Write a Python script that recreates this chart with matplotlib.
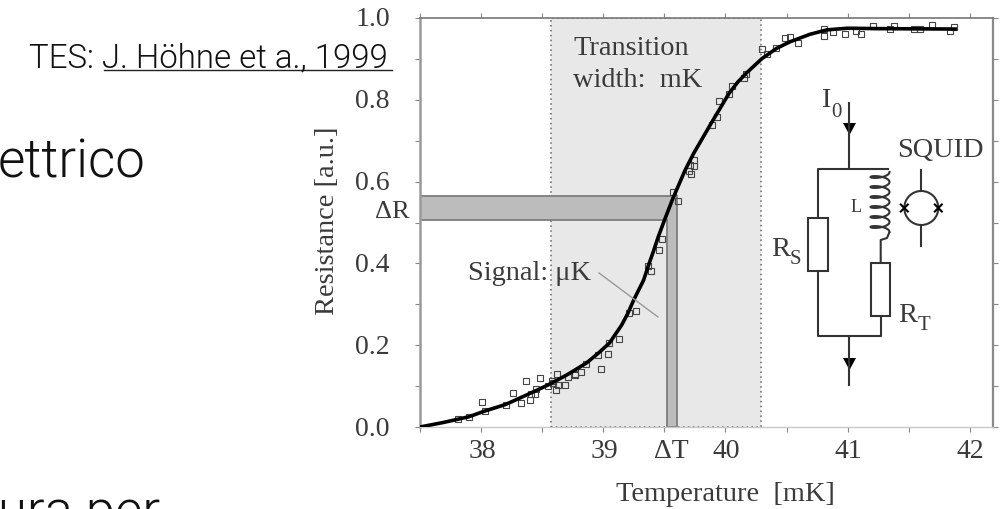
import numpy as np
import matplotlib
matplotlib.use("Agg")
import matplotlib.pyplot as plt
from matplotlib.patches import Polygon, Rectangle, Circle

# fit curve
curve_t = [37.5, 37.69, 37.90, 38.03, 38.20, 38.37, 38.55, 38.70, 38.86, 38.95, 39.05, 39.15, 39.20, 39.25,
           39.33, 39.37, 39.41, 39.45, 39.50, 39.57, 39.67, 39.74, 39.89, 40.03, 40.10, 40.17, 40.30,
           40.42, 40.53, 40.69, 40.83, 41.0, 41.24, 41.88]
curve_r = [0.0, 0.011, 0.025, 0.039, 0.055, 0.078, 0.103, 0.127, 0.156, 0.178, 0.205, 0.249, 0.277, 0.311,
           0.359, 0.395, 0.429, 0.465, 0.505, 0.559, 0.628, 0.669, 0.746, 0.816, 0.843, 0.865, 0.901,
           0.926, 0.942, 0.960, 0.971, 0.975, 0.974, 0.973]

# measured points
pts_t = [37.81, 37.90, 38.01, 38.03, 38.20, 38.26, 38.33, 38.37, 38.40, 38.41, 38.44, 38.45,
         38.48, 38.55, 38.58, 38.59, 38.61, 38.62, 38.63, 38.69, 38.71, 38.77, 38.77, 38.82,
         38.86, 38.96, 38.98, 39.04, 39.05, 39.13, 39.21, 39.27, 39.37, 39.39, 39.46, 39.48,
         39.61, 39.57, 39.72, 39.70, 39.74, 39.71, 39.74, 39.89, 39.93, 39.95, 40.03, 40.05,
         40.15, 40.17, 40.30, 40.34, 40.41, 40.49, 40.53, 40.59, 40.81, 40.81, 40.88, 40.98,
         41.07, 41.11, 41.21, 41.35, 41.38, 41.54, 41.59, 41.69, 41.84, 41.87]
pts_r = [0.020, 0.025, 0.062, 0.040, 0.055, 0.084, 0.058, 0.112, 0.065, 0.081, 0.081, 0.094,
         0.119, 0.100, 0.113, 0.107, 0.091, 0.130, 0.103, 0.103, 0.122, 0.130, 0.128, 0.134,
         0.153, 0.177, 0.141, 0.178, 0.206, 0.215, 0.279, 0.284, 0.394, 0.381, 0.433, 0.460,
         0.553, 0.575, 0.618, 0.627, 0.638, 0.641, 0.653, 0.738, 0.758, 0.797, 0.813, 0.834,
         0.853, 0.863, 0.923, 0.913, 0.926, 0.950, 0.954, 0.940, 0.972, 0.956, 0.965, 0.961,
         0.969, 0.962, 0.980, 0.973, 0.980, 0.973, 0.973, 0.982, 0.969, 0.979]

x_major = [38, 39, 40, 41, 42]
x_ticks = [37.5, 38, 38.5, 39, 39.5, 40, 40.5, 41, 41.5, 42]
y_ticks = [0, 0.1, 0.2, 0.3, 0.4, 0.5, 0.6, 0.7, 0.8, 0.9, 1.0]
y_major = [0, 0.2, 0.4, 0.6, 0.8, 1.0]

band_t = [38.57, 40.29]
delta_t = [39.52, 39.60]
delta_r = [0.506, 0.566]

plt.rcParams["font.family"] = ["Liberation Serif", "DejaVu Serif"]
INK = "#3a3a3a"
W, H = 1002, 509

fig = plt.figure(figsize=(W / 100, H / 100), dpi=100)
ax = fig.add_axes([420 / W, 1 - 427 / H, 573 / W, 409 / H])
ax.set_xlim(37.5, 42.19)
ax.set_ylim(0, 1)

ax.add_patch(Rectangle((band_t[0], 0), band_t[1] - band_t[0], 1, fc="#e8e8e8", ec="#666666",
                       ls=(0, (1, 2.2)), lw=1.1, zorder=1))
ax.add_patch(Polygon([(37.5, delta_r[1]), (delta_t[1], delta_r[1]), (delta_t[1], 0), (delta_t[0], 0),
                      (delta_t[0], delta_r[0]), (37.5, delta_r[0])],
                     fc="#bcbcbc", ec="#7d7d7d", lw=1.3, zorder=2))
ax.plot(curve_t, curve_r, color="black", lw=2.6, zorder=4)
ax.plot(pts_t, pts_r, ls="none", marker="s", ms=3.8, mfc="none", mec="#444444", mew=0.8, zorder=3)

ax.set_xticks(x_ticks)
ax.set_yticks(y_ticks)
ax.set_xticklabels([])
ax.set_yticklabels([])
ax.tick_params(top=True, right=True, length=3.5, width=0.8, color="#888888")
for side, col, lw in [("left", "#9a9a9a", 1.8), ("right", "#8a8a8a", 1.6),
                      ("top", "#777777", 1.2), ("bottom", "#c8c8c8", 1.0)]:
    ax.spines[side].set_color(col)
    ax.spines[side].set_linewidth(lw)

for v in x_major:
    ax.annotate(str(v), (v, 0), xytext=(1, -25), xycoords="data", textcoords="offset pixels",
                ha="center", va="center", fontsize=20, color=INK)
for v in y_major:
    ax.annotate(f"{v:.1f}", (37.5, v), xytext=(-30, -2), xycoords="data", textcoords="offset pixels",
                ha="right", va="center", fontsize=20, color=INK)
ax.annotate("\u0394T", (np.mean(delta_t), 0), xytext=(0, -25), xycoords="data", textcoords="offset pixels",
            ha="center", va="center", fontsize=20, color=INK)
ax.annotate("\u0394R", (37.5, np.mean(delta_r)), xytext=(-10, -4), xycoords="data", textcoords="offset pixels",
            ha="right", va="center", fontsize=19, color=INK)

# everything else sits on a pixel overlay
ov = fig.add_axes([0, 0, 1, 1], facecolor="none")
ov.set_xlim(0, W)
ov.set_ylim(H, 0)
ov.axis("off")

def label(x, y, s, size=20.4, **kw):
    kw.setdefault("color", INK)
    kw.setdefault("va", "baseline")
    ov.text(x, y, s, fontsize=size, **kw)

label(616, 501, "Temperature  [mK]")
label(328, 221, "Resistance [a.u.]", rotation=90, ha="center", va="center")
label(573, 55, "Transition")
label(573, 87, "width:  mK")
label(468, 280, "Signal: \u03bcK")
label(897, 157, "SQUID")
label(822, 107, "I")
label(831, 117, "0", size=15)
label(771, 256, "R")
label(790, 264, "S", size=15)
label(898, 322, "R")
label(918, 330, "T", size=15)
label(851, 212, "L", size=13)

sans = dict(family=["Roboto", "DejaVu Sans"], weight=300, color="#111111")
label(29, 67, "TES: J. H\u00f6hne et a., 1999", size=23.8, **sans)
ov.plot([104, 392], [69.5, 69.5], color="#222222", lw=1)
label(-2, 178, "ettrico", size=38, **sans)
label(-2, 528, "ura per", size=38, **sans)

wire = dict(color="#333333", lw=1.5, solid_capstyle="butt")
ov.plot([599, 658], [273, 317], color="#999999", lw=1)
ov.plot([849.3, 849.3], [102, 168], **wire)
ov.plot([818, 818, 889], [218, 168.5, 168.5], **wire)
ov.plot([818, 818, 880.7, 880.7], [271, 336, 336, 316], **wire)
ov.plot([849.3, 849.3], [336, 386], **wire)
ov.add_patch(Polygon([(843, 123), (856, 123), (849.5, 135)], fc="black", ec="none"))
ov.add_patch(Polygon([(843, 358), (856, 358), (849.5, 370)], fc="black", ec="none"))
ov.add_patch(Rectangle((808.5, 218), 19.5, 53, fc="white", ec="#333333", lw=1.5))
ov.add_patch(Rectangle((870.7, 262.5), 19.3, 53, fc="white", ec="#333333", lw=1.5))

# inductor coil
th = np.linspace(0, 2 * np.pi * 6, 400)
ov.plot(880 + 9.5 * np.cos(th), 172 + th / (2 * np.pi) * 10 + 3 * np.sin(th), color="#333333", lw=1.5)
ov.plot([889.5, 887, 880.7, 880.7], [232, 238, 240, 262], **wire)

# SQUID symbol
ov.add_patch(Circle((921.3, 208), 17, fc="none", ec="#333333", lw=1.5))
ov.plot([921.3, 921.3], [169, 191], **wire)
ov.plot([921.3, 921.3], [225, 247], **wire)
for cx in [904.3, 938.3]:
    ov.plot([cx - 3.5, cx + 3.5], [204.5, 211.5], color="black", lw=1.5)
    ov.plot([cx - 3.5, cx + 3.5], [211.5, 204.5], color="black", lw=1.5)

fig.savefig("out.png", dpi=100)
